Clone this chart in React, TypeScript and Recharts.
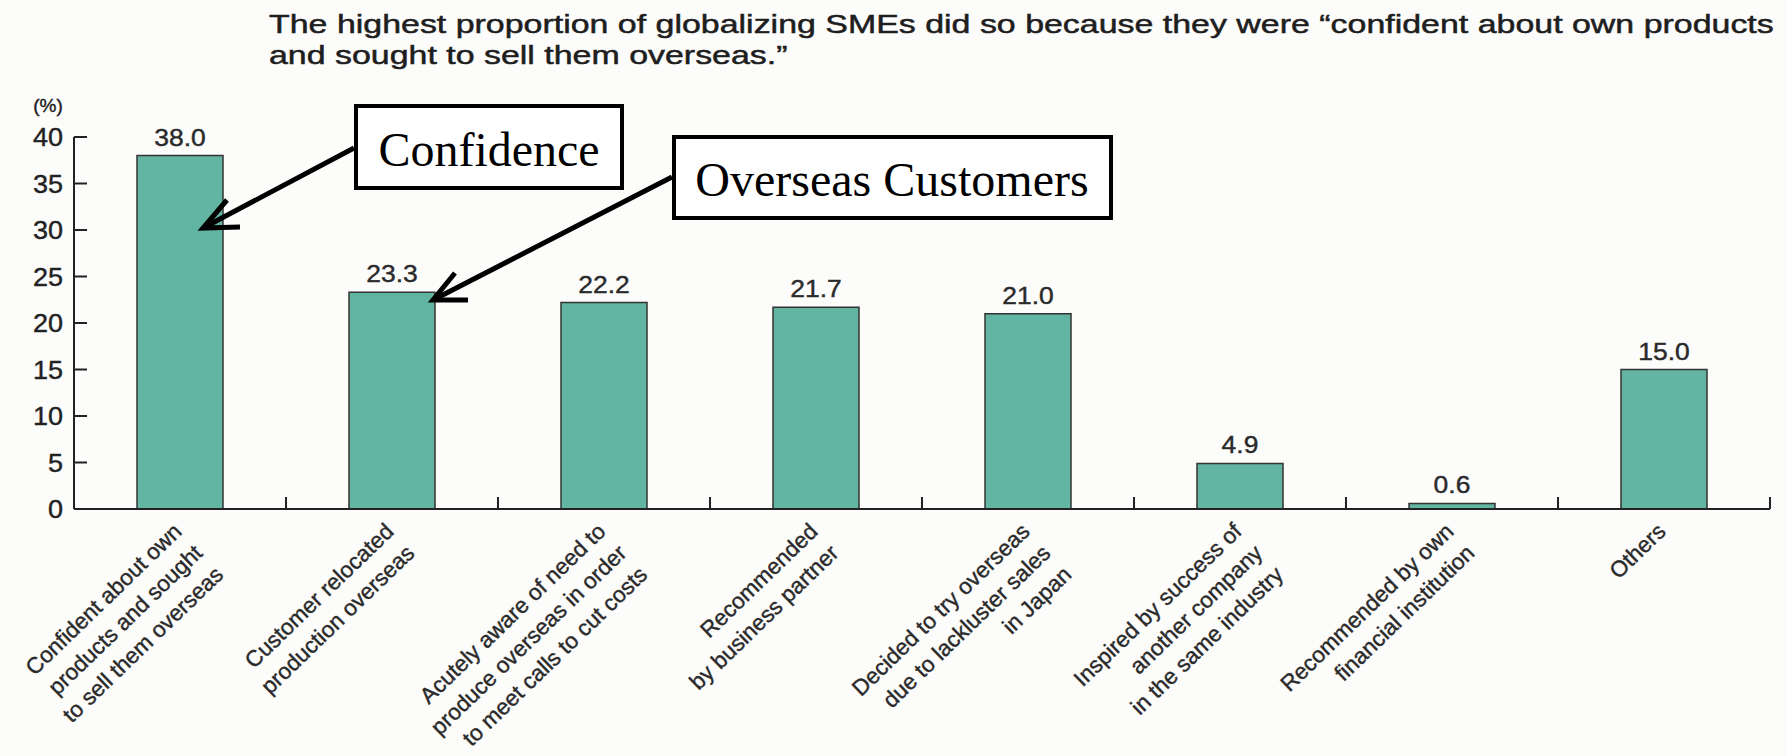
import { BarChart, Bar, XAxis, YAxis, LabelList } from "recharts";

// reasons SMEs gave for going overseas (%)
const categories = [
  "Confident about own\nproducts and sought\nto sell them overseas",
  "Customer relocated\nproduction overseas",
  "Acutely aware of need to\nproduce overseas in order\nto meet calls to cut costs",
  "Recommended\nby business partner",
  "Decided to try overseas\ndue to lackluster sales\nin Japan",
  "Inspired by success of\nanother company\nin the same industry",
  "Recommended by own\nfinancial institution",
  "Others",
];
const shares = [38.0, 23.3, 22.2, 21.7, 21.0, 4.9, 0.6, 15.0];
const yTicks = [0, 5, 10, 15, 20, 25, 30, 35, 40];

const titleLines = [
  "The highest proportion of globalizing SMEs did so because they were \u201cconfident about own products",
  "and sought to sell them overseas.\u201d",
];

const W = 1787;
const H = 756;
const PLOT_LEFT = 74;
const PLOT_RIGHT = 1770;
const PLOT_TOP = 137;
const PLOT_BOTTOM = 509;
const HALF_BAND = (PLOT_RIGHT - PLOT_LEFT) / categories.length / 2;

const INK = "#222";
const SANS = "'Liberation Sans', Arial, Helvetica, sans-serif";
const SERIF = "'Liberation Serif', 'Times New Roman', serif";

const rows = categories.map((name, i) => ({ name, value: shares[i] }));

const XTick = (props: any) => {
  const { x, y, payload } = props;
  const lines = String(payload.value).split("\n");
  return (
    <g>
      <line
        x1={x + HALF_BAND}
        x2={x + HALF_BAND}
        y1={y}
        y2={y - 12}
        stroke={INK}
        strokeWidth={2}
      />
      <text
        transform={`translate(${x + 3},${y + 24}) rotate(-44)`}
        textAnchor="end"
        fontFamily={SANS}
        fontSize={22.5}
        fill="#2a2a2a"
        stroke="#2a2a2a"
        strokeWidth={0.4}
      >
        {lines.map((l, i) => (
          <tspan key={i} x={0} dy={i === 0 ? 0 : 30}>
            {l}
          </tspan>
        ))}
      </text>
    </g>
  );
};

const YTick = (props: any) => {
  const { x, y, payload } = props;
  return (
    <g>
      <line x1={x + 11} x2={x + 24} y1={y} y2={y} stroke={INK} strokeWidth={2} />
      <text
        transform={`translate(${x},${y}) scale(1.08,1)`}
        textAnchor="end"
        dy="0.36em"
        fontFamily={SANS}
        fontSize={25}
        fill="#222"
        stroke="#222"
        strokeWidth={0.4}
      >
        {payload.value}
      </text>
    </g>
  );
};

const ValueLabel = (props: any) => {
  const { x, y, width, value } = props;
  return (
    <text
      transform={`translate(${x + width / 2},${y - 10}) scale(1.15,1)`}
      textAnchor="middle"
      fontFamily={SANS}
      fontSize={23}
      fill="#2a2a2a"
      stroke="#2a2a2a"
      strokeWidth={0.4}
    >
      {Number(value).toFixed(1)}
    </text>
  );
};

export default function App() {
  return (
    <div
      style={{
        position: "absolute",
        left: 0,
        top: 0,
        width: W,
        height: H,
        background: "#fcfcfb",
        overflow: "hidden",
      }}
    >
      <BarChart
        width={W}
        height={H}
        data={rows}
        margin={{ top: PLOT_TOP, right: W - PLOT_RIGHT, bottom: 0, left: 0 }}
      >
        <XAxis
          dataKey="name"
          height={H - PLOT_BOTTOM}
          interval={0}
          axisLine={{ stroke: INK, strokeWidth: 2 }}
          tickLine={false}
          tickSize={0}
          tickMargin={0}
          tick={<XTick />}
        />
        <YAxis
          width={PLOT_LEFT}
          domain={[0, 40]}
          ticks={yTicks}
          axisLine={{ stroke: INK, strokeWidth: 2 }}
          tickLine={false}
          tickSize={0}
          tickMargin={11}
          tick={<YTick />}
        />
        <Bar
          dataKey="value"
          barSize={86}
          fill="#62b5a2"
          stroke="#333"
          strokeWidth={1.5}
          isAnimationActive={false}
        >
          <LabelList dataKey="value" content={<ValueLabel />} />
        </Bar>
      </BarChart>

      {/* title, unit and the two callouts */}
      <svg
        width={W}
        height={H}
        style={{ position: "absolute", left: 0, top: 0, pointerEvents: "none" }}
      >
        <g
          transform="translate(269,0) scale(1.305,1)"
          fontFamily={SANS}
          fontSize={26}
          fill="#1e1e1e"
          stroke="#1e1e1e"
          strokeWidth={0.5}
        >
          <text x={0} y={33}>{titleLines[0]}</text>
          <text x={0} y={64}>{titleLines[1]}</text>
        </g>
        <text
          x={48}
          y={112}
          textAnchor="middle"
          fontFamily={SANS}
          fontSize={19}
          fill="#222"
          stroke="#222"
          strokeWidth={0.4}
        >
          (%)
        </text>

        <g stroke="#000" strokeWidth={5} fill="none" strokeLinejoin="miter">
          <polyline points="354,148 203,228" />
          <polyline points="227,200 203,228 240,227" />
          <polyline points="672,177 433,300" />
          <polyline points="455,273 433,300 468,300" />
        </g>

        <rect x={356} y={106} width={266} height={82} fill="#fff" stroke="#000" strokeWidth={4} />
        <text x={489} y={166} textAnchor="middle" fontFamily={SERIF} fontSize={48} fill="#000">
          Confidence
        </text>
        <rect x={674} y={137} width={437} height={81} fill="#fff" stroke="#000" strokeWidth={4} />
        <text x={892} y={196} textAnchor="middle" fontFamily={SERIF} fontSize={48} fill="#000">
          Overseas Customers
        </text>
      </svg>
    </div>
  );
}
